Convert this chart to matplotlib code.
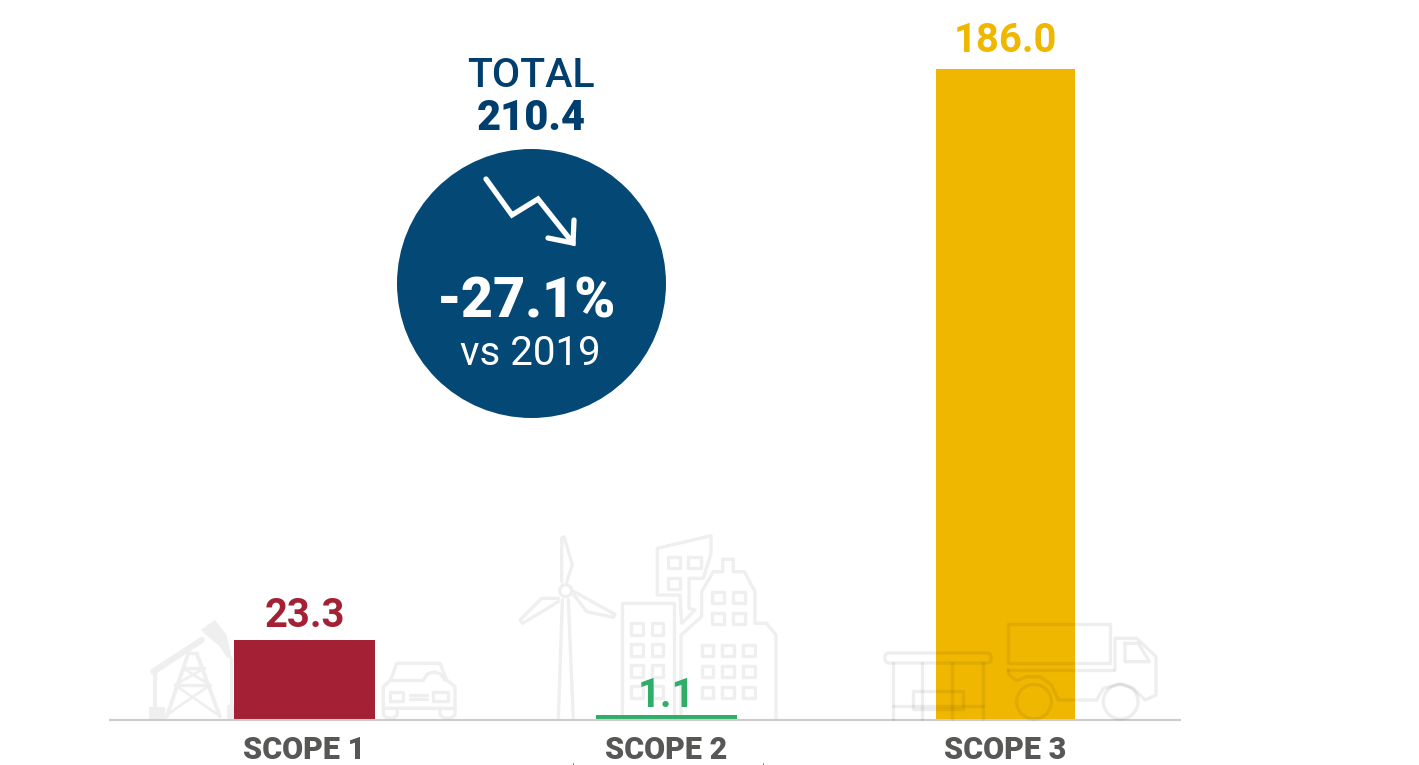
import matplotlib
matplotlib.use("Agg")
import matplotlib.pyplot as plt
from matplotlib.patches import Circle, Rectangle, FancyBboxPatch, Polygon
from matplotlib.lines import Line2D
from matplotlib.transforms import Affine2D

plt.rcParams["font.family"] = ["Roboto", "DejaVu Sans"]

# ===== DATA =====
scopes = ["SCOPE 1", "SCOPE 2", "SCOPE 3"]
value_labels = ["23.3", "1.1", "186.0"]
# bar heights, in the chart's units
bar_heights = [22.9, 1.5, 186.0]
total_label = "TOTAL"
total_value = "210.4"
change_label = "-27.1%"
change_note = "vs 2019"

# ===== STYLE =====
bar_colors = ["#a32035", "#2fae67", "#f0b700"]
bar_centers = [304.5, 666.5, 1005.5]
bar_widths = [141, 141, 139]
label_gaps = [13, 8, 17]
NAVY = "#044876"
TITLE_NAVY = "#003e6e"
GREY = "#575756"
ICON = "#efefef"
W, H = 1419, 765

fig = plt.figure(figsize=(W / 100, H / 100), dpi=100)
# axes runs from the baseline (y=720 px) to the top of the image
ax = fig.add_axes([0, (H - 720) / H, 1, 720 / H])
ax.set_xlim(0, W)
ax.set_ylim(0, 720 / 3.5)
ax.axis("off")
ax.patch.set_alpha(0)

# reference pixel coords (y down) -> display
px = Affine2D().scale(1, -1).translate(0, H)


def icon_style(z):
    # icons under the bars are flat grey, the ones over the yellow bar have to show through
    if z > 3:
        return {"color": "black", "alpha": 0.065}
    return {"color": ICON}


def outline(pts, ox, oy, closed=False, lw=2.4, z=1):
    # pts come from the 3x zoom crops
    xy = [(ox + x / 3, oy + y / 3) for x, y in pts]
    if closed:
        xy.append(xy[0])
    ax.add_line(Line2D([p[0] for p in xy], [p[1] for p in xy], lw=lw, transform=px, clip_on=False,
                       zorder=z, solid_joinstyle="round", solid_capstyle="round", **icon_style(z)))


def box(x0, y0, x1, y1, ox, oy, z=1, lw=2.4):
    outline([(x0, y0), (x1, y0), (x1, y1), (x0, y1)], ox, oy, closed=True, z=z, lw=lw)


def ring(cx, cy, r, ox, oy, z=1):
    ax.add_patch(Circle((ox + cx / 3, oy + cy / 3), r / 3, fill=False, lw=2.4, transform=px,
                        clip_on=False, zorder=z, **icon_style(z)))


def solid(pts, ox, oy):
    ax.add_patch(Polygon([(ox + x / 3, oy + y / 3) for x, y in pts], fc=ICON, ec="none",
                         transform=px, clip_on=False, zorder=1))


# ===== ICONS =====
# oil pump
ox, oy = 130, 580
outline([(70, 275), (215, 180)], ox, oy, lw=4.5)
solid([(212, 150), (255, 120), (290, 165), (305, 235), (290, 232), (270, 200), (240, 175)], ox, oy)
outline([(75, 280), (75, 380)], ox, oy, lw=3)
solid([(58, 380), (105, 380), (105, 418), (58, 418)], ox, oy)
outline([(175, 220), (110, 410)], ox, oy, lw=2.8)
outline([(200, 220), (270, 410)], ox, oy, lw=2.8)
outline([(175, 220), (200, 220)], ox, oy)
outline([(160, 265), (222, 265)], ox, oy)
outline([(135, 315), (240, 315)], ox, oy)
outline([(160, 265), (240, 315)], ox, oy, lw=2)
outline([(222, 265), (135, 315)], ox, oy, lw=2)
outline([(135, 315), (265, 405)], ox, oy, lw=2)
outline([(240, 315), (110, 405)], ox, oy, lw=2)
outline([(302, 235), (302, 380)], ox, oy, lw=2)
solid([(292, 375), (313, 375), (313, 418), (292, 418)], ox, oy)

# car
outline([(782, 300), (800, 250), (930, 250), (950, 300), (975, 320), (975, 385),
         (760, 385), (760, 320)], ox, oy, closed=True)
outline([(760, 385), (760, 405), (772, 414), (790, 414), (802, 405), (802, 385)], ox, oy)
outline([(930, 385), (930, 405), (942, 414), (962, 414), (975, 405), (975, 385)], ox, oy)
outline([(782, 300), (880, 300)], ox, oy)
outline([(880, 300), (892, 282), (912, 276), (932, 282), (945, 300)], ox, oy)
box(780, 335, 820, 362, ox, oy)
box(910, 335, 955, 362, ox, oy)
outline([(840, 345), (890, 345)], ox, oy)
outline([(840, 357), (890, 357)], ox, oy)

# wind turbine and buildings
ox, oy = 500, 520
outline([(175, 598), (187, 240)], ox, oy)
outline([(220, 598), (205, 240)], ox, oy)
ring(197, 212, 18, ox, oy)
outline([(185, 185), (185, 55), (192, 50), (217, 135), (200, 185)], ox, oy)
outline([(175, 235), (125, 235), (60, 300), (68, 310), (175, 245)], ox, oy)
outline([(222, 215), (345, 283), (340, 292), (260, 275), (222, 225)], ox, oy, closed=True)
outline([(365, 598), (365, 248), (522, 248), (522, 598)], ox, oy)
for wx in (393, 455):
    for wy in (310, 373, 435, 498):
        box(wx, wy, wx + 35, wy + 35, ox, oy)
outline([(472, 225), (472, 85), (633, 47), (633, 100), (610, 175), (567, 175), (567, 215),
         (567, 265), (585, 270), (545, 310), (540, 225), (472, 225)], ox, oy)
box(503, 112, 540, 145, ox, oy)
box(565, 112, 602, 145, ox, oy)
box(503, 175, 540, 208, ox, oy)
outline([(543, 598), (543, 345), (605, 290), (605, 215), (640, 155), (668, 155), (668, 118),
         (700, 118), (700, 155), (733, 155), (765, 215), (765, 310), (800, 310), (828, 345),
         (828, 598)], ox, oy)
for wx in (637, 699):
    for wy in (217, 280):
        box(wx, wy, wx + 35, wy + 33, ox, oy)
for wx in (605, 667, 730):
    for wy in (375, 437, 500):
        box(wx, wy, wx + 35, wy + 33, ox, oy)
# two stray marks under the SCOPE 2 label
ax.add_line(Line2D([573, 573], [763, 765], color="#888888", lw=0.7, transform=px, clip_on=False))
ax.add_line(Line2D([763, 763], [763, 765], color="#888888", lw=0.7, transform=px, clip_on=False))

# kiosk and truck, these sit over the yellow bar
ox, oy = 870, 610
box(415, 43, 720, 158, ox, oy, z=5)
outline([(415, 180), (730, 180)], ox, oy, z=5)
outline([(415, 180), (415, 192), (440, 212), (470, 200), (510, 200), (545, 225), (565, 270),
         (680, 270), (700, 235), (750, 222), (790, 235), (825, 270), (858, 255), (858, 140),
         (800, 85), (735, 85), (735, 180)], ox, oy, z=5)
ring(492, 275, 52, ox, oy, z=5)
ring(752, 275, 52, ox, oy, z=5)
outline([(765, 100), (805, 100), (838, 155), (765, 155)], ox, oy, closed=True, z=5)
ax.add_patch(FancyBboxPatch((ox + 54 / 3, oy + 138 / 3), 300 / 3, 12 / 3,
                            boxstyle="round,pad=3,rounding_size=4", fill=False, ec="black", alpha=0.065,
                            lw=2.4, transform=px, clip_on=False, zorder=5))
for post in (68, 157, 247, 338):
    outline([(post, 160), (post, 328)], ox, oy, z=5)
outline([(68, 288), (338, 288)], ox, oy, z=5)
box(130, 243, 278, 297, ox, oy, z=5)

# ===== BARS =====
ax.bar(bar_centers, bar_heights, width=bar_widths, color=bar_colors, zorder=3)
ax.add_line(Line2D([109, 1181], [720, 720], color="#cccccc", lw=1.5, transform=px, clip_on=False,
                   zorder=4, solid_capstyle="butt"))

for x, h, name, lab, c, gap in zip(bar_centers, bar_heights, scopes, value_labels, bar_colors, label_gaps):
    ax.annotate(lab, (x, h), xytext=(0, gap * 0.72), textcoords="offset points",
                ha="center", va="baseline", color=c, fontsize=28.8, fontweight="bold", zorder=6)
    ax.annotate(name, (x, 0), xytext=(0, -39 * 0.72), textcoords="offset points",
                ha="center", va="baseline", color=GREY, fontsize=22, fontweight="black", zorder=6,
                annotation_clip=False)


# ===== TOTAL BADGE =====
def badge_text(x, y, s, size, weight, color):
    ax.text(x, y, s, transform=px, ha="center", va="baseline", fontsize=size, fontweight=weight,
            color=color, zorder=8)


badge_text(531, 87, total_label, 29.5, "medium", TITLE_NAVY)
badge_text(531, 130, total_value, 30, "black", TITLE_NAVY)
ax.add_patch(Circle((531.5, 283.5), 134.5, fc=NAVY, ec="none", transform=px, clip_on=False, zorder=7))
badge_text(527, 318, change_label, 40, "black", "white")
badge_text(530, 365, change_note, 29, "normal", "white")

arrow = [(486, 179), (512, 215), (538, 199), (573, 243)]
head = [(548, 238), (573, 243), (574, 220)]
for pts in (arrow, head):
    ax.add_line(Line2D([p[0] for p in pts], [p[1] for p in pts], color="white", lw=3.8, transform=px,
                       clip_on=False, zorder=8, solid_capstyle="round", solid_joinstyle="miter"))

fig.savefig("out.png", dpi=100, facecolor="white")
